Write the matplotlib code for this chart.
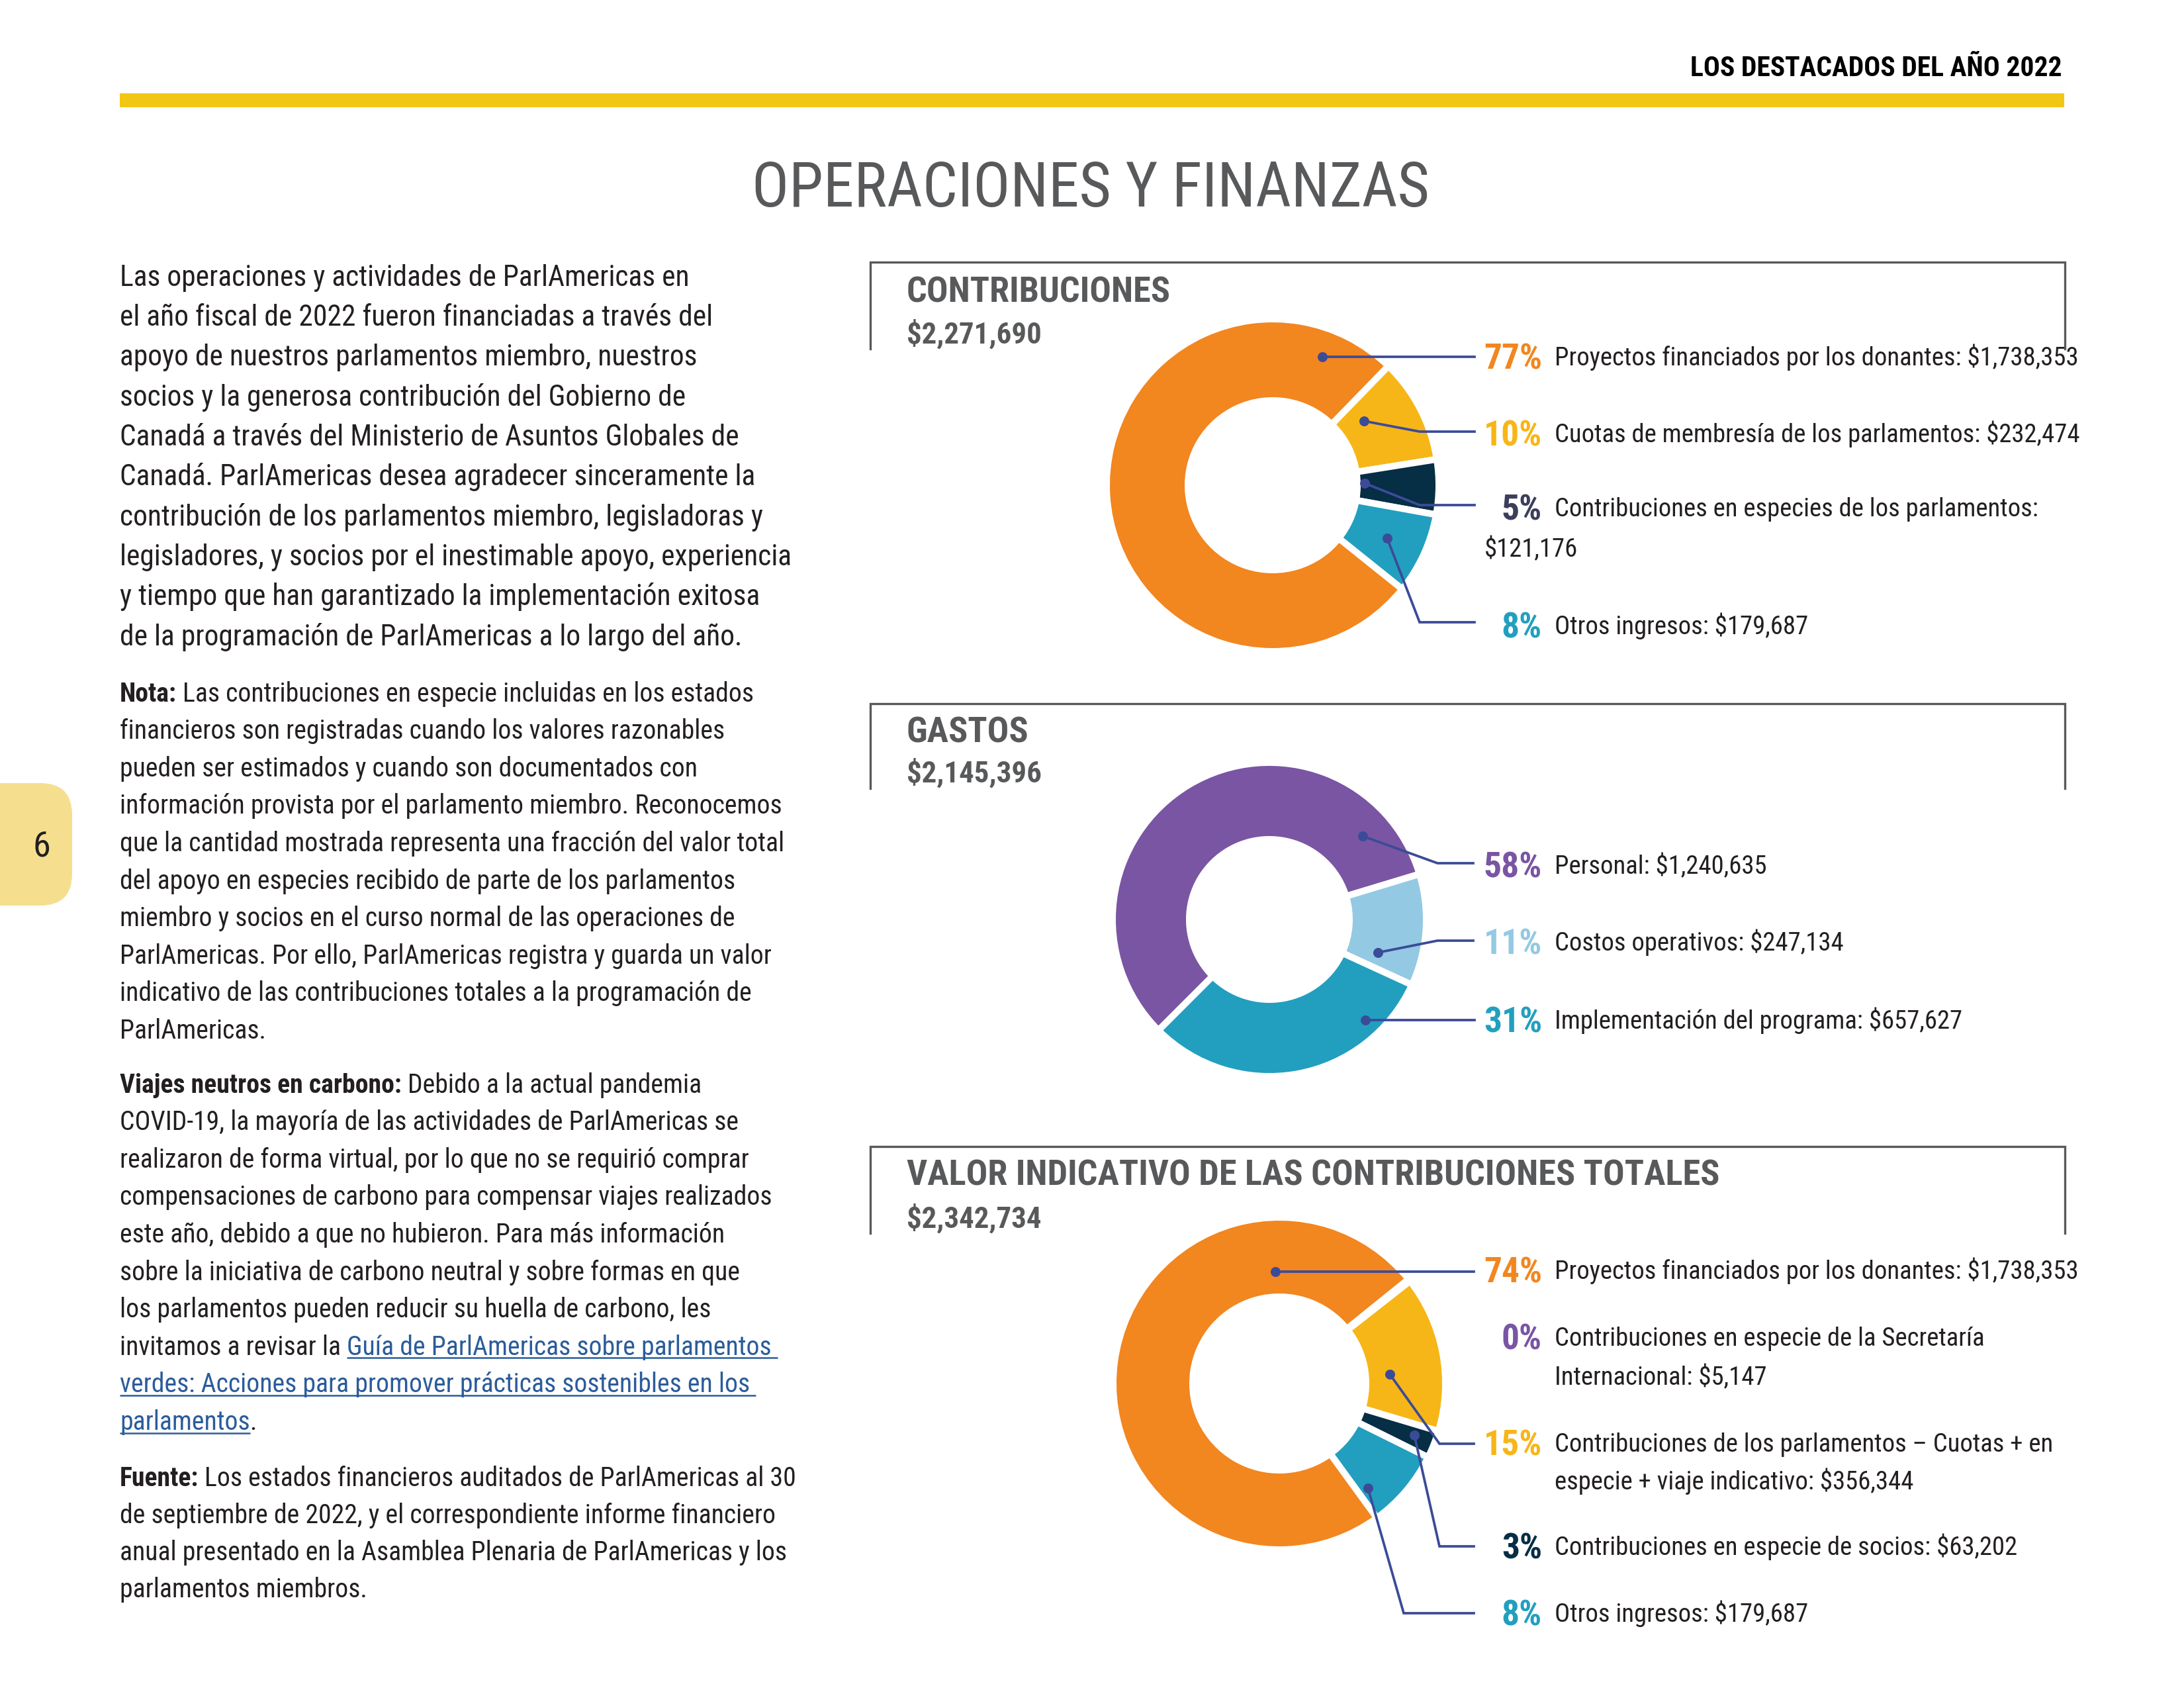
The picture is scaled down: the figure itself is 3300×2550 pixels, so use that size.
import matplotlib
matplotlib.use('Agg')
import matplotlib.pyplot as plt
from matplotlib import font_manager as fm
from matplotlib.patches import FancyBboxPatch, Rectangle

# ---------------- data ----------------
contrib_total = 2271690
contrib_labels = ['Proyectos financiados por los donantes',
                  'Cuotas de membresía de los parlamentos',
                  'Contribuciones en especies de los parlamentos',
                  'Otros ingresos']
contrib_values = [1738353, 232474, 121176, 179687]
contrib_pct = ['77%', '10%', '5%', '8%']

gastos_total = 2145396
gastos_labels = ['Personal', 'Costos operativos', 'Implementación del programa']
gastos_values = [1240635, 247134, 657627]
gastos_pct = ['58%', '11%', '31%']

valor_total = 2342734
valor_labels = ['Proyectos financiados por los donantes',
                'Contribuciones en especie de la Secretaría Internacional',
                'Contribuciones de los parlamentos – Cuotas + en especie + viaje indicativo',
                'Contribuciones en especie de socios',
                'Otros ingresos']
valor_values = [1738353, 5147, 356344, 63202, 179687]
valor_pct = ['74%', '0%', '15%', '3%', '8%']

chart_titles = ['CONTRIBUCIONES', 'GASTOS', 'VALOR INDICATIVO DE LAS CONTRIBUCIONES TOTALES']

header_text = 'LOS DESTACADOS DEL AÑO 2022'
page_title = 'OPERACIONES Y FINANZAS'
page_number = '6'

intro_lines = [
    'Las operaciones y actividades de ParlAmericas en',
    'el año fiscal de 2022 fueron financiadas a través del',
    'apoyo de nuestros parlamentos miembro, nuestros',
    'socios y la generosa contribución del Gobierno de',
    'Canadá a través del Ministerio de Asuntos Globales de',
    'Canadá. ParlAmericas desea agradecer sinceramente la',
    'contribución de los parlamentos miembro, legisladoras y',
    'legisladores, y socios por el inestimable apoyo, experiencia',
    'y tiempo que han garantizado la implementación exitosa',
    'de la programación de ParlAmericas a lo largo del año.',
]
# segments: (text, bold, link)
nota_lines = [
    [('Nota:', 1, 0), (' Las contribuciones en especie incluidas en los estados', 0, 0)],
    [('financieros son registradas cuando los valores razonables', 0, 0)],
    [('pueden ser estimados y cuando son documentados con', 0, 0)],
    [('información provista por el parlamento miembro. Reconocemos', 0, 0)],
    [('que la cantidad mostrada representa una fracción del valor total', 0, 0)],
    [('del apoyo en especies recibido de parte de los parlamentos', 0, 0)],
    [('miembro y socios en el curso normal de las operaciones de', 0, 0)],
    [('ParlAmericas. Por ello, ParlAmericas registra y guarda un valor', 0, 0)],
    [('indicativo de las contribuciones totales a la programación de', 0, 0)],
    [('ParlAmericas.', 0, 0)],
]
viajes_lines = [
    [('Viajes neutros en carbono:', 1, 0), (' Debido a la actual pandemia', 0, 0)],
    [('COVID-19, la mayoría de las actividades de ParlAmericas se', 0, 0)],
    [('realizaron de forma virtual, por lo que no se requirió comprar', 0, 0)],
    [('compensaciones de carbono para compensar viajes realizados', 0, 0)],
    [('este año, debido a que no hubieron. Para más información', 0, 0)],
    [('sobre la iniciativa de carbono neutral y sobre formas en que', 0, 0)],
    [('los parlamentos pueden reducir su huella de carbono, les', 0, 0)],
    [('invitamos a revisar la', 0, 0), (' Guía de ParlAmericas sobre parlamentos', 0, 1)],
    [('verdes: Acciones para promover prácticas sostenibles en los', 0, 1)],
    [('parlamentos', 0, 1), ('.', 0, 0)],
]
fuente_lines = [
    [('Fuente:', 1, 0), (' Los estados financieros auditados de ParlAmericas al 30', 0, 0)],
    [('de septiembre de 2022, y el correspondiente informe financiero', 0, 0)],
    [('anual presentado en la Asamblea Plenaria de ParlAmericas y los', 0, 0)],
    [('parlamentos miembros.', 0, 0)],
]

# ---------------- style ----------------
W, H, DPI = 3300, 2550, 300
ORANGE = '#F2861F'
YELLOW = '#F7B617'
NAVY = '#062E45'
TEAL = '#229FBF'
PURPLE = '#7A55A3'
LBLUE = '#93C9E3'
SLATE = '#3B3E5C'
GRAY = '#58595B'
TXT = '#231F20'
LEAD = '#3C4B98'
LINK = '#2B5C9B'
BAR = '#F2C614'
TAB = '#F5DF8F'

names = {f.name for f in fm.fontManager.ttflist}
FAM = next(c for c in ['Roboto Condensed', 'Liberation Sans Narrow', 'Lato', 'DejaVu Sans'] if c in names)

fig = plt.figure(figsize=(W / DPI, H / DPI), dpi=DPI)
ax = fig.add_axes([0, 0, 1, 1])
ax.set_xlim(0, W)
ax.set_ylim(0, H)
ax.axis('off')
R = fig.canvas.get_renderer()


def Y(y):
    return H - y


def measure(s, size, weight='normal'):
    t = ax.text(0, 0, s, fontsize=size, fontweight=weight, family=FAM, parse_math=False)
    w = t.get_window_extent(R).width
    t.remove()
    return w


def fit(s, target, weight='normal'):
    return 10.0 * target / measure(s, 10, weight)


def base(yc, size):
    return yc + 0.34 * size * DPI / 72.0


def put(x, yc, s, size, weight='normal', color=TXT, ha='left'):
    return ax.text(x, Y(base(yc, size)), s, fontsize=size, fontweight=weight, color=color,
                   family=FAM, va='baseline', ha=ha, parse_math=False)


def put_segments(x, yc, segs, size):
    sp = measure('n n', size) - measure('nn', size)
    b = base(yc, size)
    for s, bold, link in segs:
        if s.startswith(' '):
            x += sp
            s = s[1:]
        col = LINK if link else TXT
        t = ax.text(x, Y(b), s, fontsize=size, fontweight='bold' if bold else 'normal',
                    color=col, family=FAM, va='baseline', parse_math=False)
        w = t.get_window_extent(R).width
        if link:
            uy = Y(b + 0.12 * size * DPI / 72.0)
            ax.plot([x, x + w + (sp if s.endswith('s') and s != 'parlamentos' else 0)], [uy, uy],
                    color=col, lw=0.6, solid_capstyle='butt')
        x += w


# ---------------- header ----------------
hs = fit(header_text, 562, 'semibold')
put(3115, 101, header_text, hs, 'semibold', '#000000', ha='right')
ax.add_patch(Rectangle((181, Y(162)), 2938, 21, color=BAR, lw=0))
ts = fit(page_title, 1025)
put(1648, 280, page_title, ts, 'normal', GRAY, ha='center')

# page tab
ax.add_patch(FancyBboxPatch((-80, Y(1368)), 189, 185,
                            boxstyle='round,pad=0,rounding_size=48', color=TAB, lw=0))
put(63, 1275, page_number, 13, 'normal', TXT, ha='center')

# ---------------- left column ----------------
body = fit(intro_lines[7], 1017)
for i, line in enumerate(intro_lines):
    put(181, 417 + i * 60.3, line, body)

small = fit(nota_lines[4][0][0], 1004)
for i, segs in enumerate(nota_lines):
    put_segments(181, 1046 + i * 56.6, segs, small)
for i, segs in enumerate(viajes_lines):
    put_segments(181, 1637 + i * 56.6, segs, small)
for i, segs in enumerate(fuente_lines):
    put_segments(181, 2231 + i * 56.2, segs, small)

# ---------------- charts ----------------
BX0, BX1, TX = 1315, 3120, 1370
PCT_X, LAB_X = 2330, 2349
lab_size = fit('Proyectos financiados por los donantes: $1,738,353', 793)
pct_size = fit('77%', 88, 'bold')
head_size = 0.5 * (fit(chart_titles[0], 404, 'bold') + fit(chart_titles[2], 1212, 'bold'))
amt_size = fit('$2,271,690', 204, 'bold')

layouts = [
    dict(center=(1923, 733), r=251, rin=128, start=-38.7, box=(396, 527), title_y=438, amount_y=503,
         rows=[539, 655, 767, 945], wrap={2: (6, 2243, 828)},
         leaders={0: [(1998, 539), (2228, 539)],
                  1: [(2061, 636), (2145, 652), (2228, 652)],
                  2: [(2062, 730), (2145, 763), (2228, 763)],
                  3: [(2096, 813), (2145, 940), (2228, 940)]}),
    dict(center=(1918, 1389), r=237, rin=121, start=225, box=(1063, 1191), title_y=1103, amount_y=1166,
         rows=[1307, 1423, 1541], wrap={},
         leaders={0: [(2059, 1263), (2172, 1304), (2226, 1304)],
                  1: [(2082, 1439), (2172, 1421), (2226, 1421)],
                  2: [(2063, 1541), (2228, 1541)]}),
    dict(center=(1933, 2090), r=251, rin=131, start=-54, box=(1732, 1863), title_y=1772, amount_y=1839,
         rows=[1919, 2020, 2180, 2336, 2437], wrap={1: (6, LAB_X, 2079), 2: (8, LAB_X, 2237)},
         leaders={0: [(1927, 1921), (2227, 1921)],
                  2: [(2100, 2076), (2175, 2181), (2227, 2181)],
                  3: [(2137, 2168), (2175, 2336), (2227, 2336)],
                  4: [(2067, 2248), (2121, 2437), (2227, 2437)]}),
]

charts = [
    (contrib_values, contrib_pct, contrib_labels, [ORANGE, YELLOW, NAVY, TEAL],
     [ORANGE, YELLOW, SLATE, TEAL], contrib_total, chart_titles[0]),
    (gastos_values, gastos_pct, gastos_labels, [PURPLE, LBLUE, TEAL],
     [PURPLE, LBLUE, TEAL], gastos_total, chart_titles[1]),
    (valor_values, valor_pct, valor_labels, [ORANGE, PURPLE, YELLOW, NAVY, TEAL],
     [ORANGE, PURPLE, YELLOW, NAVY, TEAL], valor_total, chart_titles[2]),
]

for (vals, pcts, labs, wcols, pcols, total, title), L in zip(charts, layouts):
    cx, cy = L['center']
    ax.pie(vals, colors=wcols, startangle=L['start'], counterclock=False, radius=L['r'],
           center=(cx, Y(cy)), frame=True,
           wedgeprops=dict(width=L['r'] - L['rin'], edgecolor='white', linewidth=2.4))
    bt, bb = L['box']
    ax.plot([BX0, BX0, BX1, BX1], [Y(bb), Y(bt), Y(bt), Y(bb)], color=GRAY, lw=0.8,
            solid_joinstyle='miter')
    put(TX, L['title_y'], title, head_size, 'bold', GRAY)
    put(TX, L['amount_y'], f'${total:,}', amt_size, 'bold', GRAY)
    for i, (pct, lab, val) in enumerate(zip(pcts, labs, vals)):
        words = f'{lab}: ${val:,}'.split(' ')
        yc = L['rows'][i]
        put(PCT_X, yc, pct, pct_size, 'bold', pcols[i], ha='right')
        if i in L['wrap']:
            n, x2, y2 = L['wrap'][i]
            put(LAB_X, yc, ' '.join(words[:n]), lab_size)
            put(x2, y2, ' '.join(words[n:]), lab_size)
        else:
            put(LAB_X, yc, ' '.join(words), lab_size)
        if i in L['leaders']:
            pts = L['leaders'][i]
            ax.plot([p[0] for p in pts], [Y(p[1]) for p in pts], color=LEAD, lw=0.9,
                    solid_joinstyle='miter')
            ax.plot(pts[0][0], Y(pts[0][1]), 'o', ms=2.6, color=LEAD)

ax.set_xlim(0, W)
ax.set_ylim(0, H)
ax.set_aspect('auto')
ax.axis('off')
fig.savefig('out.png', dpi=DPI, facecolor='white')
